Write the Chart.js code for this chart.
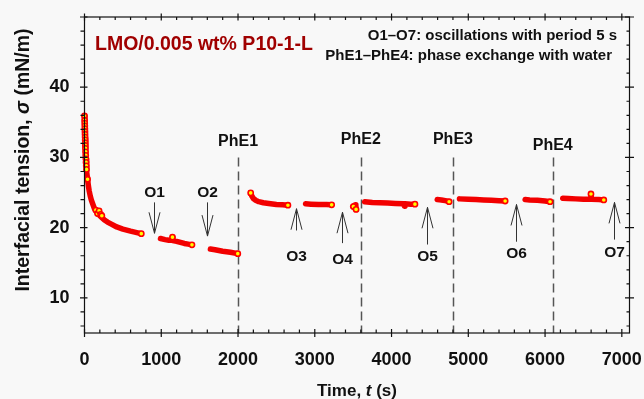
<!DOCTYPE html>
<html>
<head>
<meta charset="utf-8">
<script src="https://cdn.jsdelivr.net/npm/chart.js@4.4.1/dist/chart.umd.min.js"></script>
<style>
    html, body { margin: 0; padding: 0; background: #f8f8f8; }
    #wrap { width: 644px; height: 399px; }
</style>
</head>
<body>
<div id="wrap"><canvas id="chart" width="644" height="399"></canvas></div>
<script>
// Interfacial tension trace: time (s) and tension (mN/m), null = recording paused
var timeS = [
    0, 3, 6, 9, 12, 16, 20, 25, 30, 40, 50, 60, 75, 90, 110, 130, 160, 190, 220, 260, 300, 350, 420, 500, 600, 680, 740,
    900,
    990, 1050, 1100, 1140, 1146, 1152, 1200, 1250, 1300, 1350, 1400,
    1520,
    1640, 1700, 1800, 1900, 1997,
    2080,
    2165, 2180, 2200, 2230, 2270, 2330, 2400, 2500, 2580, 2650,
    2760,
    2880, 2950, 3050, 3150, 3220,
    3360,
    3495, 3510, 3525, 3535, 3540,
    3600,
    3650, 3750, 3850, 3950, 4050, 4160, 4167, 4175, 4250, 4305,
    4460,
    4595, 4650, 4700, 4750,
    4800,
    4885, 5000, 5100, 5200, 5300, 5400, 5480,
    5620,
    5740, 5800, 5900, 6000, 6065,
    6100,
    6230, 6300, 6400, 6500, 6590, 6598, 6606, 6700, 6765
];
var tensionMNm = [
    35.9, 34.8, 33.7, 32.7, 31.7, 30.6, 29.7, 28.7, 28.0, 26.9, 26.0, 25.3, 24.5, 23.9, 23.3, 22.7, 22.2, 21.8, 21.5, 21.1, 20.8, 20.5, 20.1, 19.8, 19.5, 19.3, 19.15,
    null,
    18.45, 18.3, 18.2, 18.2, 18.65, 18.15, 18.05, 17.9, 17.75, 17.65, 17.55,
    null,
    16.95, 16.85, 16.65, 16.5, 16.3,
    null,
    24.95, 24.5, 24.15, 23.9, 23.7, 23.55, 23.45, 23.3, 23.25, 23.2,
    null,
    23.4, 23.35, 23.3, 23.3, 23.25,
    null,
    23.0, 23.15, 23.25, 22.95, 22.6,
    null,
    23.7, 23.6, 23.55, 23.5, 23.45, 23.4, 23.05, 23.4, 23.35, 23.35,
    null,
    24.0, 23.95, 23.85, 23.7,
    null,
    24.1, 24.05, 24.0, 23.95, 23.9, 23.85, 23.8,
    null,
    24.0, 23.95, 23.9, 23.8, 23.7,
    null,
    24.2, 24.15, 24.1, 24.05, 24.05, 24.8, 24.05, 24.0, 23.95
];

// readings that stand out as separate symbols
var symbolTimeS = [0, 2, 3, 4, 5, 6, 7, 8, 9, 10, 11, 12, 14, 16, 18, 20, 23, 26, 40,
    148, 170, 190, 210, 226, 740, 1146, 1400, 1997, 2165, 2650, 3220, 3503, 3538,
    4305, 4750, 5480, 6065, 6598, 6765];
var symbolTensionMNm = [35.9, 35.3, 34.9, 34.5, 34.1, 33.7, 33.3, 32.9, 32.5, 32.1, 31.7, 31.3, 30.8, 30.3, 29.8, 29.3, 28.8, 28.3, 26.9,
    22.5, 22.0, 22.4, 21.9, 21.7, 19.15, 18.65, 17.55, 16.3, 24.95, 23.2, 23.25, 23.0, 22.6,
    23.35, 23.7, 23.8, 23.7, 24.8, 23.95];

var xTicks = [0, 1000, 2000, 3000, 4000, 5000, 6000, 7000];
var yTicks = [10, 20, 30, 40];

// phase exchange with water
var phaseNames = ['PhE1', 'PhE2', 'PhE3', 'PhE4'];
var phaseTimeS = [2000, 3600, 4800, 6100];
var phaseLabelAt = [32.2, 32.5, 32.5, 31.7];

// oscillations with period 5 s
var oscNames = ['O1', 'O2', 'O3', 'O4', 'O5', 'O6', 'O7'];
var oscTimeS = [900, 1600, 2757, 3360, 4463, 5625, 6902];
var oscTail = [23.6, 23.6, 19.6, 17.8, 17.6, 18.0, 18.3];
var oscTip = [19.2, 18.8, 22.7, 22.2, 22.9, 23.3, 23.6];
var oscLabelAt = [25.0, 25.0, 15.9, 15.5, 15.8, 16.3, 16.5];

var FONT = '"Liberation Sans", Arial, sans-serif';
var INK = '#111111';

function pairs(xs, ys) {
    return xs.map(function(x, i) { return {x: x, y: ys[i]}; });
}

// text made of plain and italic pieces, centred on x
function richText(ctx, parts, x, y, size) {
    var total = 0;
    parts.forEach(function(p) {
        ctx.font = (p.italic ? 'italic ' : '') + 'bold ' + size + 'px ' + FONT;
        p.w = ctx.measureText(p.text).width;
        total += p.w;
    });
    var cx = x - total / 2;
    ctx.textAlign = 'left';
    parts.forEach(function(p) {
        ctx.font = (p.italic ? 'italic ' : '') + 'bold ' + size + 'px ' + FONT;
        ctx.fillText(p.text, cx, y);
        cx += p.w;
    });
}

function tick(ctx, x1, y1, x2, y2) {
    ctx.moveTo(x1, y1);
    ctx.lineTo(x2, y2);
}

// keep the plot box fixed: no extra room for edge labels
function noEdgePadding(s) {
    s.paddingTop = 0;
    s.paddingBottom = 0;
    s.paddingLeft = 0;
    s.paddingRight = 0;
}

var decorations = {
    id: 'decorations',
    beforeDraw: function(chart) {
        var ctx = chart.ctx;
        ctx.save();
        ctx.fillStyle = '#f8f8f8';
        ctx.fillRect(0, 0, chart.width, chart.height);
        ctx.restore();
    },
    beforeDatasetsDraw: function(chart) {
        var ctx = chart.ctx, x = chart.scales.x, y = chart.scales.y;
        ctx.save();
        ctx.strokeStyle = '#555555';
        ctx.lineWidth = 1.5;
        ctx.setLineDash([9, 5]);
        phaseTimeS.forEach(function(t) {
            var px = Math.round(x.getPixelForValue(t)) + 0.5;
            ctx.beginPath();
            ctx.moveTo(px, y.getPixelForValue(30));
            ctx.lineTo(px, y.getPixelForValue(5));
            ctx.stroke();
        });
        ctx.restore();
    },
    afterDatasetsDraw: function(chart) {
        var ctx = chart.ctx, x = chart.scales.x, y = chart.scales.y, a = chart.chartArea;
        var v, px, py;
        ctx.save();

        // frame with ticks on all four sides
        ctx.strokeStyle = INK;
        ctx.lineWidth = 1.2;
        ctx.strokeRect(a.left, a.top, a.right - a.left, a.bottom - a.top);
        ctx.beginPath();
        for (v = 0; v <= 7000; v += 200) {
            px = x.getPixelForValue(v);
            if (v % 1000 === 0) {
                tick(ctx, px, a.bottom - 4, px, a.bottom + 4);
                tick(ctx, px, a.top - 3.5, px, a.top + 3.5);
            } else {
                tick(ctx, px, a.bottom, px, a.bottom - 3.5);
                tick(ctx, px, a.top, px, a.top + 3);
            }
        }
        for (v = 6; v <= 50; v += 2) {
            py = y.getPixelForValue(v);
            if (v % 10 === 0) {
                tick(ctx, a.left - 4.5, py, a.left + 3, py);
                tick(ctx, a.right - 4.5, py, a.right + 4.5, py);
            } else {
                tick(ctx, a.left - 4, py, a.left, py);
                tick(ctx, a.right - 3, py, a.right, py);
            }
        }
        ctx.stroke();

        // oscillation arrows
        ctx.strokeStyle = '#333333';
        ctx.lineWidth = 1;
        ctx.fillStyle = INK;
        ctx.textAlign = 'center';
        ctx.textBaseline = 'middle';
        ctx.font = 'bold 15.5px ' + FONT;
        oscTimeS.forEach(function(t, i) {
            var ax = Math.round(x.getPixelForValue(t)) + 0.5;
            var yTail = y.getPixelForValue(oscTail[i]);
            var yTip = y.getPixelForValue(oscTip[i]);
            var dir = yTip > yTail ? 1 : -1;
            ctx.beginPath();
            ctx.moveTo(ax, yTail);
            ctx.lineTo(ax, yTip);
            ctx.moveTo(ax - 5.5, yTip - dir * 21);
            ctx.lineTo(ax, yTip);
            ctx.lineTo(ax + 5.5, yTip - dir * 21);
            ctx.stroke();
            ctx.fillText(oscNames[i], ax, y.getPixelForValue(oscLabelAt[i]));
        });

        // phase exchange labels
        ctx.font = 'bold 16px ' + FONT;
        phaseTimeS.forEach(function(t, i) {
            ctx.fillText(phaseNames[i], x.getPixelForValue(t), y.getPixelForValue(phaseLabelAt[i]));
        });

        // sample name and legend notes
        ctx.textBaseline = 'alphabetic';
        ctx.textAlign = 'left';
        ctx.fillStyle = '#a00000';
        ctx.font = 'bold 19.5px ' + FONT;
        ctx.fillText('LMO/0.005 wt% P10-1-L', 95, 49.5);
        ctx.fillStyle = INK;
        ctx.font = 'bold 15px ' + FONT;
        ctx.textAlign = 'right';
        ctx.fillText('O1\u2013O7: oscillations with period 5 s', 617, 40);
        ctx.fillText('PhE1\u2013PhE4: phase exchange with water', 612, 59.5);

        // axis titles
        richText(ctx, [{text: 'Time, '}, {text: 't', italic: true}, {text: ' (s)'}],
            (a.left + a.right) / 2, 395.5, 17);
        ctx.translate(28.5, 160);
        ctx.rotate(-Math.PI / 2);
        richText(ctx, [{text: 'Interfacial tension, '}, {text: '\u03c3', italic: true}, {text: ' (mN/m)'}],
            0, 0, 19.5);
        ctx.restore();
    }
};

var chart = new Chart(document.getElementById('chart'), {
    type: 'line',
    data: {
        datasets: [
            {
                data: pairs(symbolTimeS, symbolTensionMNm),
                showLine: false,
                pointRadius: 2.6,
                pointBackgroundColor: '#ffff00',
                pointBorderColor: '#ff0000',
                pointBorderWidth: 1.6,
                clip: false
            },
            {
                data: pairs(timeS, tensionMNm),
                borderColor: '#f20000',
                borderWidth: 5.5,
                borderCapStyle: 'round',
                borderJoinStyle: 'round',
                pointRadius: 0,
                spanGaps: false,
                tension: 0,
                clip: false
            }
        ]
    },
    options: {
        responsive: false,
        animation: false,
        events: [],
        layout: { padding: { left: 0, right: 14.5, top: 17, bottom: 0 } },
        plugins: { legend: { display: false }, tooltip: { enabled: false } },
        scales: {
            x: {
                type: 'linear',
                min: 0,
                max: 7100,
                grid: { display: false, drawTicks: false },
                border: { display: false },
                afterBuildTicks: function(s) { s.ticks = xTicks.map(function(v) { return {value: v}; }); },
                afterFit: function(s) { s.height = 66; noEdgePadding(s); },
                ticks: {
                    color: INK,
                    padding: 16,
                    maxRotation: 0,
                    autoSkip: false,
                    callback: function(v) { return String(v); },
                    font: { family: FONT, size: 18, weight: 'bold' }
                }
            },
            y: {
                min: 5,
                max: 50,
                grid: { display: false, drawTicks: false },
                border: { display: false },
                afterBuildTicks: function(s) { s.ticks = yTicks.map(function(v) { return {value: v}; }); },
                afterFit: function(s) { s.width = 84.5; noEdgePadding(s); },
                ticks: {
                    color: INK,
                    padding: 15,
                    autoSkip: false,
                    callback: function(v) { return String(v); },
                    font: { family: FONT, size: 18, weight: 'bold' }
                }
            }
        }
    },
    plugins: [decorations]
});
</script>
</body>
</html>
